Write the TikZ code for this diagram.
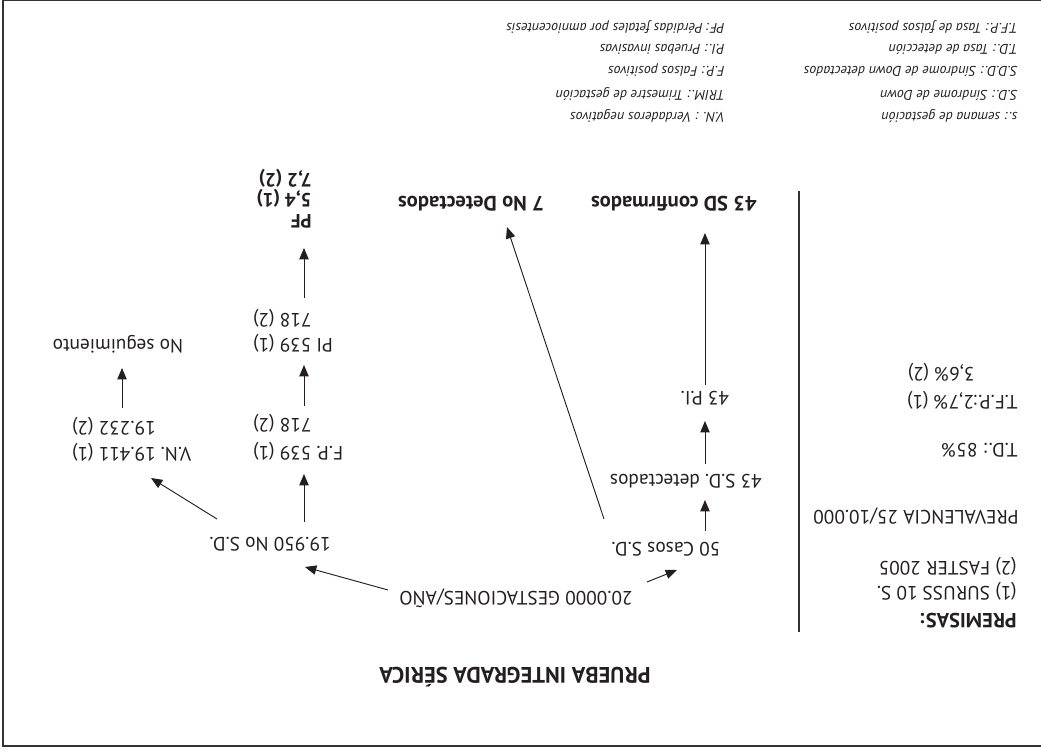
\documentclass[tikz,border=0pt]{standalone}
\usepackage{fontspec}
\setmainfont{PT Sans}
\usetikzlibrary{arrows.meta,calc}
\definecolor{ink}{HTML}{231F20}
\definecolor{rule}{HTML}{333333}

\tikzset{
  lbl/.style={inner sep=0pt, text=ink, text height=10pt, text depth=0pt,
              font=\fontsize{14.5}{17}\selectfont},
  blbl/.style={lbl, font=\fontsize{14.5}{17}\selectfont\bfseries},
  bigbold/.style={lbl, text height=11pt, font=\fontsize{15.5}{18}\selectfont\bfseries},
  leg/.style={inner sep=0pt, anchor=west, text=ink, text height=7.5pt, text depth=0pt,
              font=\fontsize{10.5}{12}\selectfont\itshape},
  arr/.style={draw=ink, line width=0.7pt, -{Triangle[length=8.5pt,width=7pt]}},
}

\begin{document}
% The sheet is laid out upright in (u,v) units (v downwards) and turned half a turn.
\begin{tikzpicture}[x=0.75pt, y=-0.75pt, rotate=180, transform shape]
\useasboundingbox (0,0) rectangle (1041,753);

% frame
\draw[rule, line width=1.5pt] (0,7) -- (1037.5,7) -- (1037.5,752.5) -- (0,752.5);

% premises column
\node[bigbold, font=\fontsize{15.3}{18}\selectfont\bfseries, anchor=west] (prem) at (24,132) {PREMISAS:};
\node[lbl, anchor=west]  (src1)  at (24,160) {(1) SURUSS 10 S.};
\node[lbl, anchor=west]  (src2)  at (24,185) {(2) FASTER 2005};
\node[lbl, anchor=west]  (prev)  at (22,236) {PREVALENCIA 25/10.000};
\node[lbl, anchor=west]  (td)    at (23,303) {T.D.: 85\%};
\node[lbl, anchor=west]  (tfp1)  at (23,351) {T.F.P.:2,7\% (1)};
\node[lbl, anchor=west]  (tfp2)  at (66,379) {3,6\% (2)};
\draw[rule, line width=1.1pt] (242,121) -- (242,562);

% flow
\node[bigbold, text height=11.8pt, font=\fontsize{16.8}{19}\selectfont\bfseries] (title) at (526,78) {PRUEBA INTEGRADA SÉRICA};
\node[lbl]  (gest)  at (525,155) {20.0000 GESTACIONES/AÑO};
\node[lbl]  (casos) at (375,204) {50 Casos S.D.};
\node[lbl]  (nosd)  at (771,209) {19.950 No S.D.};
\node[lbl]  (det)   at (355,272) {43 S.D. detectados};
\node[lbl]  (pi43)  at (336,355) {43 P.I.};
\node[bigbold] (conf)  at (367,549) {43 SD confirmados};
\node[bigbold] (nodet) at (570,549) {7 No Detectados};

\node[lbl, anchor=east] (fp1) at (788,300) {F.P. 539 (1)};
\node[lbl, anchor=east] (fp2) at (788,328) {718 (2)};
\node[lbl, anchor=east] (pi1) at (788,408) {PI 539 (1)};
\node[lbl, anchor=east] (pi2) at (788,433) {718 (2)};
\node[blbl, anchor=west] (pf1) at (729,532) {PF};
\node[blbl, anchor=west] (pf2) at (729,553) {5,4 (1)};
\node[blbl, anchor=west] (pf3) at (729,573) {7,2 (2)};

\node[lbl, anchor=east] (vn1) at (969,299) {V.N. 19.411 (1)};
\node[lbl, anchor=east] (vn2) at (969,325) {19.232 (2)};
\node[lbl] (noseg) at (923,407) {No seguimiento};

% connectors
\draw[arr] ($(gest.center)+(-131,16)$) -- ($(casos.center)+(-11,-21)$);
\draw[arr] ($(gest.center)+(128,8)$)   -- ($(nosd.center)+(-35,-23)$);
\draw[arr] ($(casos.center)+(-39,18)$) -- ($(det.center)+(-19,-19)$);
\draw[arr] ($(det.center)+(-19,17)$)   -- ($(pi43.center)+(0,-23)$);
\draw[arr] ($(pi43.center)+(0,13)$)    -- ($(conf.center)+(-31,-29)$);
\draw[arr] ($(casos.center)+(62,30)$)  -- ($(nodet.center)+(-36,-23)$);
\draw[arr] ($(nosd.center)+(-34,22)$)  -- ($(fp1.east)+(-51,-21)$);
\draw[arr] ($(fp2.east)+(-51,19)$)     -- ($(pi1.east)+(-51,-20)$);
\draw[arr] ($(pi2.east)+(-51,22)$)     -- ($(pf1.west)+(8,-27)$);
\draw[arr] ($(nosd.center)+(53,25)$)   -- ($(vn1.east)+(-79,-24)$);
\draw[arr] ($(vn2.east)+(-50,20)$)     -- ($(noseg.center)+(-4,-22)$);

% abbreviations
\node[leg] (l1) at (23,635) {s.: semana de gestación};
\node[leg] (l2) at (23,657) {S.D.: Síndrome de Down};
\node[leg] (l3) at (23,681) {S.D.D.: Síndrome de Down detectados};
\node[leg] (l4) at (23,703) {T.D.: Tasa de detección};
\node[leg] (l5) at (23,724) {T.F.P.: Tasa de falsos positivos};
\node[leg] (r1) at (316,635) {V.N. : Verdaderos negativos};
\node[leg] (r2) at (316,657) {TRIM.: Trimestre de gestación};
\node[leg] (r3) at (316,681) {F.P.: Falsos positivos};
\node[leg] (r4) at (316,703) {P.I.: Pruebas invasivas};
\node[leg] (r5) at (316,724) {PF: Pérdidas fetales por amniocentesis};
\end{tikzpicture}
\end{document}
